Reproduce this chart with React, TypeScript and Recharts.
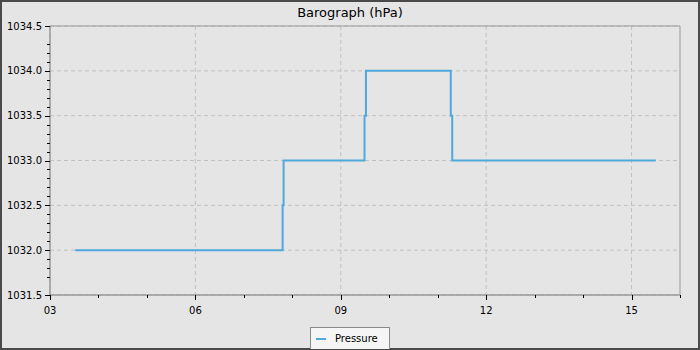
import { CartesianGrid, Legend, Line, LineChart, ReferenceArea, XAxis, YAxis } from 'recharts'

// hours of day (decimal) and pressure readings, hPa
const hours = [3.52, 7.8, 7.82, 9.49, 9.52, 11.27, 11.3, 15.5]
const pressure = [1032.0, 1032.5, 1033.0, 1033.5, 1034.0, 1033.5, 1033.0, 1033.0]

const xMajor = [3, 6, 9, 12, 15]
const xTicks = [3, 4, 5, 6, 7, 8, 9, 10, 11, 12, 13, 14, 15, 16]
const yMajor = [1031.5, 1032.0, 1032.5, 1033.0, 1033.5, 1034.0, 1034.5]
// minor ticks every 0.1 (the reference skips 1031.6 and 1034.4)
const yTicks: number[] = []
for (let i = 0; i <= 30; i++) {
  if (i === 1 || i === 29) continue
  yTicks.push(Math.round((1031.5 + i * 0.1) * 10) / 10)
}

const LINE = '#4fa9dc'
const FONT = '"DejaVu Sans", sans-serif'

const data = hours.map((h, i) => ({ hour: h, pressure: pressure[i] }))

const isMajorY = (v: number) => yMajor.some((m) => Math.abs(m - v) < 1e-6)

function XTick({ x, y, payload }: any) {
  const major = xMajor.includes(payload.value)
  const px = Math.round(x) + 0.5
  return (
    <g>
      <line x1={px} x2={px} y1={y} y2={y + (major ? 5 : 3)} stroke="#000" />
      {major && (
        <text x={x} y={y + 19} textAnchor="middle" fontSize={10} fill="#000">
          {String(payload.value).padStart(2, '0')}
        </text>
      )}
    </g>
  )
}

function YTick({ x, y, payload }: any) {
  const major = isMajorY(payload.value)
  const py = Math.round(y) + 0.5
  return (
    <g>
      <line x1={x} x2={x - (major ? 5 : 3)} y1={py} y2={py} stroke="#000" />
      {major && (
        <text x={x - 8} y={y} dy="0.35em" textAnchor="end" fontSize={10} fill="#000">
          {payload.value.toFixed(1)}
        </text>
      )}
    </g>
  )
}

function LegendBox() {
  return (
    <div style={{ display: 'flex', justifyContent: 'center', height: 22, paddingLeft: 0 }}>
      <div
        style={{
          width: 78,
          height: 21,
          marginTop: 1,
          border: '1px solid #8a8a8a',
          borderBottom: 'none',
          background: '#f5f5f5',
          display: 'flex',
          alignItems: 'center',
          fontSize: 10,
          color: '#000',
        }}
      >
        <span style={{ display: 'inline-block', width: 10, height: 2, background: LINE, marginLeft: 5, marginRight: 9 }} />
        <span>Pressure</span>
      </div>
    </div>
  )
}

export default function App() {
  return (
    <div
      style={{
        position: 'absolute',
        left: 0,
        top: 0,
        width: 700,
        height: 350,
        boxSizing: 'border-box',
        border: '2px solid #4a4a4a',
        background: '#e5e5e5',
        fontFamily: FONT,
      }}
    >
      <div
        style={{
          position: 'absolute',
          top: 4,
          left: 0,
          width: 696,
          textAlign: 'center',
          fontSize: 13,
          lineHeight: '13px',
          color: '#000',
        }}
      >
        Barograph (hPa)
      </div>
      <LineChart width={696} height={346} data={data} margin={{ top: 24, right: 18, left: 0, bottom: 0 }}>
        <CartesianGrid
          stroke="#c0c0c0"
          strokeDasharray="4 3"
          horizontalValues={yMajor}
          verticalValues={xMajor}
        />
        <ReferenceArea x1={3} x2={16} y1={1031.5} y2={1034.5} fill="none" stroke="#999" ifOverflow="visible" />
        <XAxis
          dataKey="hour"
          type="number"
          domain={[3, 16]}
          ticks={xTicks}
          interval={0}
          height={31}
          tickSize={0}
          tickMargin={0}
          tickLine={false}
          axisLine={{ stroke: '#999' }}
          tick={<XTick />}
          allowDataOverflow
        />
        <YAxis
          type="number"
          domain={[1031.5, 1034.5]}
          ticks={yTicks}
          interval={0}
          width={48}
          tickSize={0}
          tickMargin={0}
          tickLine={false}
          axisLine={{ stroke: '#999' }}
          tick={<YTick />}
          allowDataOverflow
        />
        <Legend
          verticalAlign="bottom"
          content={<LegendBox />}
          wrapperStyle={{ left: 0, width: 696, bottom: 0 }}
        />
        <Line
          type="stepAfter"
          dataKey="pressure"
          name="Pressure"
          stroke={LINE}
          strokeWidth={2}
          dot={false}
          activeDot={false}
          isAnimationActive={false}
        />
      </LineChart>
    </div>
  )
}
